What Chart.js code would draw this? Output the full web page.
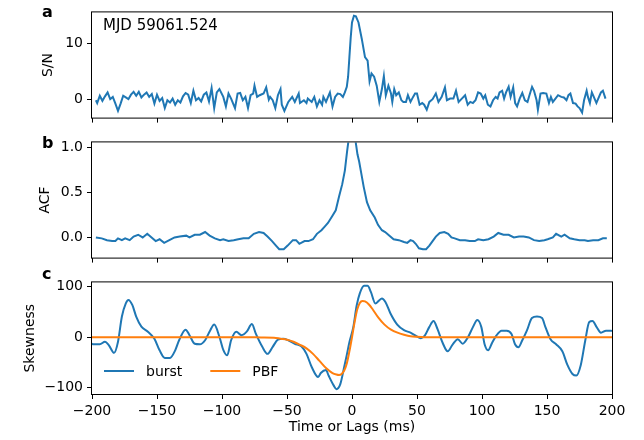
<!DOCTYPE html>
<html>
<head>
<meta charset="utf-8">
<script src="https://cdn.jsdelivr.net/npm/chart.js@4.4.1/dist/chart.umd.min.js"></script>
<style>
  body { margin: 0; background: #fff; }
  #fig { position: relative; width: 644px; height: 440px; font-family: "DejaVu Sans", sans-serif; color: #000; }
  #fig canvas { position: absolute; left: 0; }
  .panel { position: absolute; left: 42px; font-weight: bold; font-size: 16px; line-height: 16px; }
  #mjd { position: absolute; left: 103px; top: 18px; font-size: 15px; line-height: 15px; }
</style>
</head>
<body>
<div id="fig">
  <canvas id="chart-a" width="644" height="130" style="top:0px"></canvas>
  <canvas id="chart-b" width="644" height="140" style="top:130px"></canvas>
  <canvas id="chart-c" width="644" height="170" style="top:270px"></canvas>
  <div class="panel" style="top:4px">a</div>
  <div class="panel" style="top:135px">b</div>
  <div class="panel" style="top:266px">c</div>
  <div id="mjd">MJD 59061.524</div>
</div>
<script>
// ---- data ----
// panel a: burst profile (S/N vs time, ms)
const snTime = [-197,-196,-194,-192,-190,-188,-186,-184,-182,-180,-178,-176,-174,-172,-170,-168,-166,-164,-162,-160,
  -158,-156,-154,-152,-150,-148,-146,-144,-142,-140,-138,-136,-134,-132,-130,-128,-126,-124,-122,-120,
  -118,-116,-114,-112,-110,-108,-106,-104,-102,-99,-97,-95,-93,-90,-88,-86,-84,-82,-80,-78,
  -76,-75,-73,-71,-68,-66,-64,-63,-61,-59,-57,-55,-54,-52,-49,-46,-44,-41,-40,-37,
  -35,-34,-31,-29,-27,-25,-23,-22,-20,-17,-15,-13,-11,-9,-7,-5.5,-4,-3,-2,-1,
  0,1.5,3,5,7.5,10,12,13.5,15,17,19,21,23,24.5,26,28,30,31,32.5,34,
  36,38,39.5,41.5,43,45,47,48.5,50,52,54,55.5,57.5,59.5,62,64.5,66.5,69,71.5,73,
  75.5,78,80,82,84.5,87,89,91,93,95,97,99,101,102.5,104.5,106.5,108.5,110.5,112,113.5,
  115.5,117,118.5,120.5,122,124,125.5,127,129,131,133,135,136.5,138.5,140,142,143,145,147,149.5,
  151.5,153,154.5,156.5,158.5,161,163,165,166.5,168,170,172,173.5,175,177,178.5,180.5,181.5,183,184.5,
  186,188,190,191.5,193,195];
const snValue = [-0.2,-0.7,0.6,-0.3,0.5,1.2,0.0,0.4,-0.8,-2.1,-0.8,0.6,0.3,0.0,0.8,1.3,0.6,1.3,0.3,0.8,
  1.2,0.4,0.9,-0.8,0.8,-0.3,0.2,-1.6,-0.2,-0.6,0.1,-1.0,-0.2,-0.6,0.5,1.1,0.8,-0.7,1.5,-0.2,
  0.2,-0.4,0.8,1.2,-0.4,2.0,-1.6,1.2,1.8,0.4,-1.3,1.0,0.1,-1.6,1.0,1.1,-0.2,0.4,-1.6,0.7,
  1.0,2.4,0.4,0.7,1.0,2.1,-0.1,0.4,-0.2,-1.6,0.7,1.8,-1.0,-2.1,-0.5,0.4,-0.5,1.0,-0.7,-0.2,
  -0.7,0.1,-0.5,0.4,-1.3,-0.2,-1.0,0.4,-0.5,1.2,-1.3,0.4,1.0,0.9,0.4,1.2,2.2,4.0,7.5,11.0,
  13.7,14.9,14.8,13.7,10.8,7.5,6.9,3.2,4.6,4.0,2.4,-0.5,1.8,4.1,0.7,2.4,1.0,-0.5,1.8,0.7,
  1.2,-0.2,-0.5,-0.5,0.7,-0.5,0.4,1.0,1.0,-1.0,-0.7,-1.0,-1.9,-0.5,0.0,1.0,-0.5,0.4,2.1,-0.2,
  0.1,0.1,1.5,-0.5,0.1,0.7,-1.0,-0.5,-0.7,-0.2,1.2,1.0,0.1,0.7,-1.0,-1.3,-0.2,0.4,0.1,1.2,
  1.5,0.1,1.2,2.2,0.4,2.1,-0.7,-1.3,0.1,1.1,-0.2,-0.5,0.7,2.2,1.5,-0.2,-1.9,1.0,1.1,1.0,
  -0.7,0.4,-0.5,0.1,0.7,0.4,0.3,-0.2,0.7,1.0,-0.7,-0.8,-1.3,-1.6,-2.4,-0.2,1.5,0.4,-0.7,1.2,
  0.4,-0.7,0.4,1.2,1.5,0.1];
const snTicks = [0, 10];

// panel b: autocorrelation (ACF vs lag, ms); the zero-lag spike runs off the top
const acfLag = [-197,-192.5,-188.5,-184.5,-182,-180,-177,-174.5,-171,-168,-164.5,-161,-157.5,-153.5,-151,-148,-144.5,-140.5,-136.5,-132.5,
  -127.5,-125,-121,-117,-113,-109.5,-105.5,-101.5,-99,-95,-91,-87.5,-83.5,-79.5,-75.5,-71.5,-68,-65,-61.5,-58.5,
  -56,-52.5,-49.5,-45.5,-43,-40.5,-36.5,-33.5,-30,-27,-23.5,-21,-18.5,-15.5,-12.5,-10,-7.5,-5.5,-3.8,-2.8,
  0,2.8,4.2,5.5,7,9,11.5,14,17.5,20,23,25.5,29.5,32,36,40,42.5,45,47,49,51.5,
  54.5,57,59.5,62,64.5,67.5,71,74,76.5,79,83,87,90.5,94.5,97,101,105,109,112.5,116.5,
  120.5,124.5,128.5,132,136,140,144,148,150.5,154.5,157,161,163.5,167.5,171,175,179,181.5,185.5,189.5,
  193,196];
const acfValue = [0.0,-0.01,-0.03,-0.04,-0.04,-0.01,-0.03,-0.01,-0.03,0.01,0.03,0.0,0.04,-0.01,-0.04,-0.02,-0.06,-0.03,0.0,0.01,
  0.02,0.0,0.03,0.03,0.06,0.02,-0.01,-0.03,-0.02,-0.04,-0.03,-0.02,-0.01,-0.01,0.04,0.06,0.05,0.01,-0.04,-0.09,
  -0.13,-0.13,-0.09,-0.03,-0.03,-0.07,-0.04,-0.04,-0.02,0.04,0.08,0.12,0.16,0.23,0.30,0.45,0.59,0.74,0.95,1.06,
  2.2,1.06,0.92,0.84,0.72,0.56,0.39,0.30,0.22,0.14,0.08,0.06,0.01,-0.02,-0.03,-0.05,-0.06,-0.03,-0.04,-0.07,-0.12,
  -0.13,-0.13,-0.09,-0.04,0.01,0.05,0.06,0.04,0.0,-0.01,-0.03,-0.03,-0.04,-0.04,-0.02,-0.03,-0.02,0.01,0.05,0.03,
  0.03,0.0,0.01,0.01,0.0,-0.03,-0.04,-0.03,-0.02,0.0,0.04,0.01,0.03,-0.01,-0.02,-0.03,-0.03,-0.04,-0.03,-0.03,
  -0.01,-0.01];
const acfTicks = [0, 0.5, 1];

// panel c: skewness of burst and of the pulse broadening function
const burstTime = [-200,-199,-194,-190,-187,-183,-180,-177,-174,-172,-169,-166,-162,-157,-152,-148,-144,-140,-136,-133,
  -128,-125,-121,-117,-113,-109,-106,-102,-99,-96,-93,-89,-85,-81,-77,-74,-69,-65,-61,-57,
  -53,-49,-44,-39,-35,-31,-26,-24,-20,-18,-14,-12,-9,-6,-4,-2,1,3.6,6,9.3,
  12,14.5,18,20.5,23,25.7,29.6,34.8,40,45,49,53,56,59.4,62.7,65.8,69.7,73.6,77.5,81.4,
  85.2,89,93,96.4,99.5,102,104.7,107.8,111,115,119,122.8,125.4,128,131,134.5,138.4,142.3,146.2,148.8,
  152.7,157,161.8,165.7,169.6,172.6,176,179.4,182.5,185,188.2,191.5,195.4,199.3,200];
const burstSkew = [-13,-14,-14,-9,-16,-31,-9,41,67,74,64,41,21,11,-3,-26,-41,-41,-26,-6,
  15,4,-13,-14,-6,14,25,1,-25,-36,-6,11,4,11,26,7,-19,-33,-19,-5,
  -3,-6,-13,-18,-33,-59,-79,-71,-65,-76,-96,-103,-93,-59,-35,-10,20,63,87,102,
  102,90,67,72,77,70,47,25,14,9,3,-2,3,20,32,16,-11,-28,-14,-4,
  -13,-1,20,34,20,-14,-26,-11,3,13,13,6,-14,-20,-6,13,38,41,38,20,
  -4,-14,-28,-55,-73,-76,-55,-7,30,32,20,9,13,13,12];
const pbfTime = [-200,-80,-70,-60,-55,-50,-45,-40,-35,-30,-25,-20,-15,-12,-10,-8,-6,-4,-2,0,
  2,4,6,8,10,13,16,20,25,30,35,40,45,50,60,200];
const pbfSkew = [0,0,-0.5,-1,-3,-5,-9,-15,-22,-33,-47,-61,-71,-74,-75,-73,-66,-52,-28,0,
  30,55,68,72,71,65,55,40,25,15,9,5,2,1,0,0];
const skewTicks = [-100, 0, 100];

const timeTicks = [-200, -150, -100, -50, 0, 50, 100, 150, 200];
const seriesLabels = ["burst", "PBF"];

// ---- styling ----
const BLUE = "#1f77b4";
const ORANGE = "#ff7f0e";
const AREA_LEFT = 92;
Chart.defaults.font.family = "'DejaVu Sans', sans-serif";
Chart.defaults.font.size = 14;
Chart.defaults.color = "#000";

const toPoints = (xs, ys) => xs.map((x, i) => ({ x: x, y: ys[i] }));
const fmt = (v, digits) => {
  const s = Math.abs(v).toFixed(digits);
  return v < 0 ? "\u2212" + s : s;
};

// black box around the axes, like matplotlib spines
const framePlugin = {
  id: "frame",
  afterDatasetsDraw(chart) {
    const { ctx, chartArea: a } = chart;
    ctx.save();
    ctx.strokeStyle = "#000";
    ctx.lineWidth = 1;
    ctx.strokeRect(a.left - 0.5, a.top - 0.5, a.right - a.left + 1, a.bottom - a.top + 1);
    ctx.restore();
  }
};

// legend sitting inside the bottom-left of the axes, no frame
const inlineLegend = {
  id: "inlineLegend",
  afterDatasetsDraw(chart) {
    const { ctx, chartArea: a } = chart;
    const y = a.bottom - 23;
    let x = a.left + 12;
    ctx.save();
    ctx.font = "14px 'DejaVu Sans'";
    ctx.textBaseline = "middle";
    chart.data.datasets.forEach((ds) => {
      ctx.strokeStyle = ds.borderColor;
      ctx.lineWidth = 2;
      ctx.beginPath();
      ctx.moveTo(x, y);
      ctx.lineTo(x + 30, y);
      ctx.stroke();
      ctx.fillStyle = "#000";
      ctx.fillText(ds.label, x + 42, y + 1);
      x += 42 + ctx.measureText(ds.label).width + 28;
    });
    ctx.restore();
  }
};

function makeOptions(cfg) {
  return {
    responsive: false,
    animation: false,
    events: [],
    layout: { padding: { left: cfg.padLeft, right: 32, top: cfg.padTop, bottom: 0 } },
    plugins: { legend: { display: false }, tooltip: { enabled: false } },
    elements: { point: { radius: 0 } },
    scales: {
      x: {
        type: "linear",
        min: -200,
        max: 200,
        afterBuildTicks: (axis) => { axis.ticks = timeTicks.map(v => ({ value: v })); },
        afterFit: (axis) => { axis.height = cfg.xHeight; },
        grid: { drawOnChartArea: false, drawTicks: true, tickLength: 5, color: "#000" },
        border: { display: false },
        ticks: {
          display: cfg.showX,
          padding: 4,
          autoSkip: false,
          maxRotation: 0,
          callback: (v) => fmt(v, 0)
        },
        title: {
          display: cfg.showX,
          text: "Time or Lags (ms)",
          padding: { top: 4, bottom: 4 }
        }
      },
      y: {
        type: "linear",
        min: cfg.yMin,
        max: cfg.yMax,
        afterBuildTicks: (axis) => { axis.ticks = cfg.yTicks.map(v => ({ value: v })); },
        afterFit: (axis) => { axis.width = AREA_LEFT - cfg.padLeft; },
        grid: { drawOnChartArea: false, drawTicks: true, tickLength: 5, color: "#000" },
        border: { display: false },
        ticks: { padding: 4, callback: (v) => fmt(v, cfg.digits) },
        title: { display: true, text: cfg.yTitle, padding: { top: 4, bottom: 4 } }
      }
    }
  };
}

// panel a
new Chart(document.getElementById("chart-a"), {
  type: "line",
  data: {
    datasets: [{
      data: toPoints(snTime, snValue),
      borderColor: BLUE,
      borderWidth: 2,
      fill: false,
      tension: 0,
      clip: 0
    }]
  },
  options: makeOptions({
    padLeft: 36, padTop: 7, xHeight: 12, showX: false,
    yMin: -3.3, yMax: 15.5, yTicks: snTicks, digits: 0, yTitle: "S/N"
  }),
  plugins: [framePlugin]
});

// panel b
new Chart(document.getElementById("chart-b"), {
  type: "line",
  data: {
    datasets: [{
      data: toPoints(acfLag, acfValue),
      borderColor: BLUE,
      borderWidth: 2,
      fill: false,
      tension: 0,
      clip: 0
    }]
  },
  options: makeOptions({
    padLeft: 33, padTop: 12, xHeight: 12, showX: false,
    yMin: -0.223, yMax: 1.052, yTicks: acfTicks, digits: 1, yTitle: "ACF"
  }),
  plugins: [framePlugin]
});

// panel c
new Chart(document.getElementById("chart-c"), {
  type: "line",
  data: {
    datasets: [
      {
        label: seriesLabels[0],
        data: toPoints(burstTime, burstSkew),
        borderColor: BLUE,
        borderWidth: 2,
        fill: false,
        cubicInterpolationMode: "monotone",
        order: 1,
        clip: 0
      },
      {
        label: seriesLabels[1],
        data: toPoints(pbfTime, pbfSkew),
        borderColor: ORANGE,
        borderWidth: 2,
        fill: false,
        cubicInterpolationMode: "monotone",
        order: 0,
        clip: 0
      }
    ]
  },
  options: makeOptions({
    padLeft: 18, padTop: 10, xHeight: 46, showX: true,
    yMin: -112.6, yMax: 108.7, yTicks: skewTicks, digits: 0, yTitle: "Skewness"
  }),
  plugins: [framePlugin, inlineLegend]
});
</script>
</body>
</html>
